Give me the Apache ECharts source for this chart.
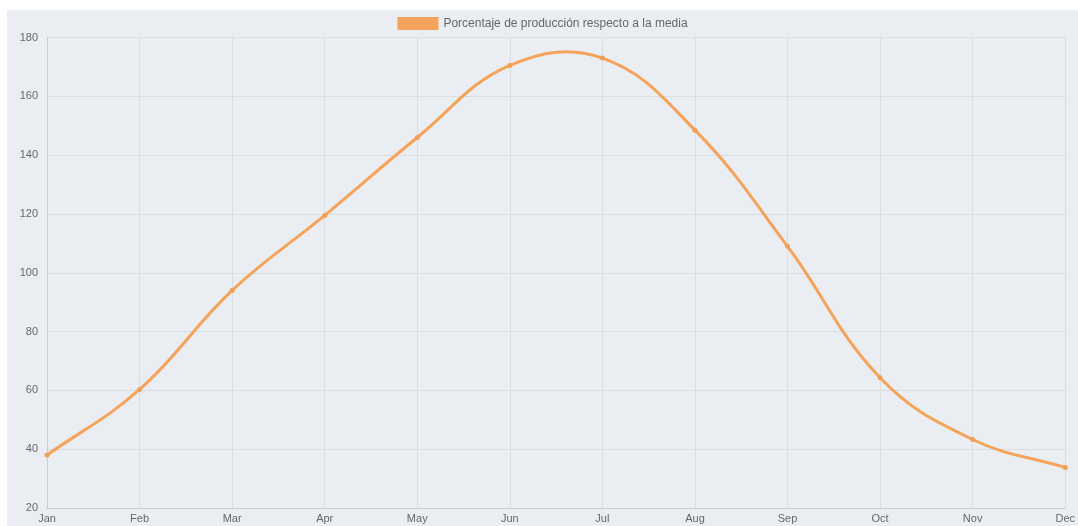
<!DOCTYPE html>
<html>
<head>
<meta charset="utf-8">
<script src="https://cdn.jsdelivr.net/npm/echarts@6/dist/echarts.min.js"></script>
<style>
html,body{margin:0;padding:0;background:#ffffff;width:1078px;height:526px;overflow:hidden;}
#chart{position:absolute;left:7px;top:10px;width:1071px;height:516px;background:#eaeef2;}
</style>
</head>
<body>
<div id="chart"></div>
<script>
const categories = ['Jan','Feb','Mar','Apr','May','Jun','Jul','Aug','Sep','Oct','Nov','Dec'];
const seriesName = 'Porcentaje de producción respecto a la media';
const values = [38, 60.3, 94, 119.5, 146, 170.5, 173, 148.5, 109, 64.3, 43.3, 33.8];
const yTicks = {min: 20, max: 180, interval: 20};

const LINE = '#f5a35a';
const FONT = 'Liberation Sans, Arial, sans-serif';

// Cardinal spline (tension 0.4) through the points given by the axes
function splinePath(pts, t) {
  let d = 'M' + pts[0][0] + ' ' + pts[0][1];
  const cps = pts.map((cur, i) => {
    const prev = pts[i - 1] || cur, next = pts[i + 1] || cur;
    const d01 = Math.hypot(cur[0] - prev[0], cur[1] - prev[1]);
    const d12 = Math.hypot(next[0] - cur[0], next[1] - cur[1]);
    let s01 = d01 / (d01 + d12), s12 = d12 / (d01 + d12);
    if (!isFinite(s01)) s01 = 0;
    if (!isFinite(s12)) s12 = 0;
    const fa = t * s01, fb = t * s12;
    return {
      p: [cur[0] - fa * (next[0] - prev[0]), cur[1] - fa * (next[1] - prev[1])],
      n: [cur[0] + fb * (next[0] - prev[0]), cur[1] + fb * (next[1] - prev[1])]
    };
  });
  for (let i = 1; i < pts.length; i++) {
    const a = cps[i - 1].n, b = cps[i].p, c = pts[i];
    d += ' C' + a[0] + ' ' + a[1] + ' ' + b[0] + ' ' + b[1] + ' ' + c[0] + ' ' + c[1];
  }
  return d;
}

const chart = echarts.init(document.getElementById('chart'), null, {renderer:'canvas'});
chart.setOption({
  backgroundColor: '#eaeef2',
  animation: false,
  legend: {
    top: 2,
    left: 'center',
    itemWidth: 41,
    itemHeight: 13,
    itemGap: 6,
    textStyle: {color: '#666', fontSize: 12, fontFamily: FONT},
    data: [{name: seriesName, icon: 'rect', itemStyle: {color: LINE}}]
  },
  grid: {left: 40, right: 9, top: 27.5, bottom: 18, containLabel: false},
  xAxis: {
    type: 'category',
    data: categories,
    boundaryGap: false,
    axisLine: {show: true, lineStyle: {color: '#c9ced3'}},
    axisTick: {show: false},
    axisLabel: {color: '#666', fontSize: 11, margin: 5, fontFamily: FONT},
    splitLine: {show: true, lineStyle: {color: '#d9dee3', width: 1}}
  },
  yAxis: {
    type: 'value',
    min: yTicks.min,
    max: yTicks.max,
    interval: yTicks.interval,
    axisLine: {show: true, lineStyle: {color: '#c9ced3'}},
    axisTick: {show: false},
    axisLabel: {color: '#666', fontSize: 11, margin: 9, fontFamily: FONT},
    splitLine: {show: true, lineStyle: {color: '#d9dee3', width: 1}}
  },
  series: [{
    name: 'curve',
    type: 'custom',
    z: 1,
    silent: true,
    data: [0],
    renderItem: function (params, api) {
      const pts = values.map((v, i) => api.coord([i, v]));
      return {
        type: 'path',
        shape: {pathData: splinePath(pts, 0.4)},
        style: {stroke: LINE, lineWidth: 3, fill: null, lineJoin: 'round'}
      };
    }
  }, {
    name: seriesName,
    type: 'line',
    z: 3,
    data: values,
    symbol: 'circle',
    symbolSize: 5,
    lineStyle: {width: 0, opacity: 0},
    itemStyle: {color: '#f0a055'}
  }]
});
</script>
</body>
</html>
